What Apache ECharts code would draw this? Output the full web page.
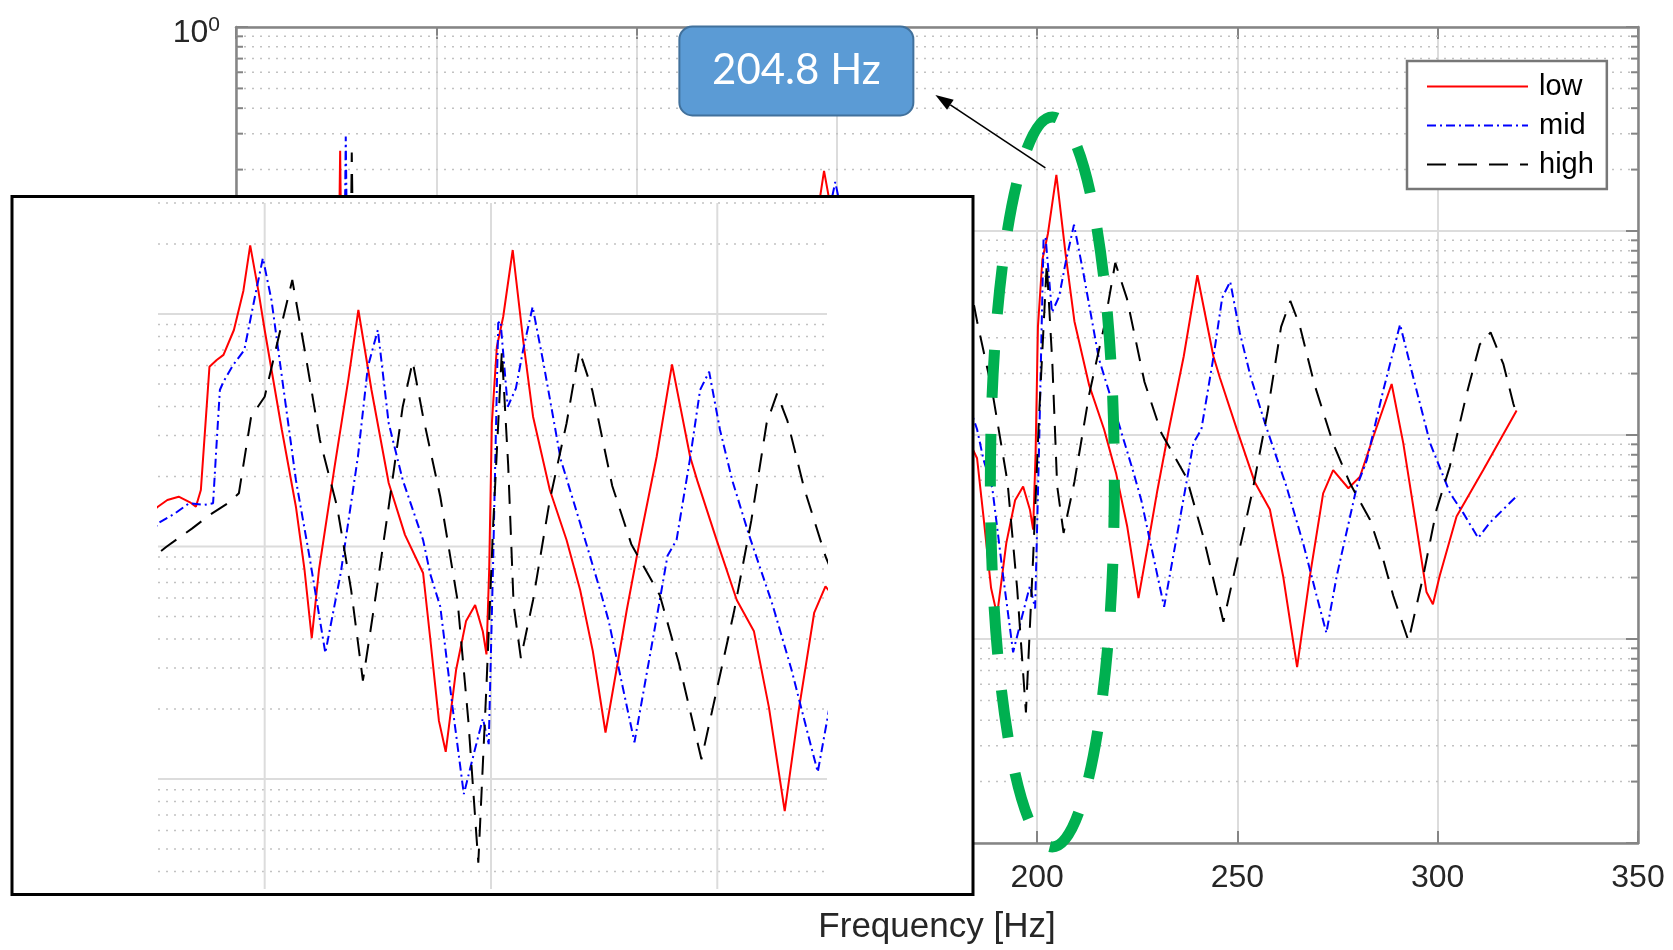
<!DOCTYPE html>
<html>
<head>
<meta charset="utf-8">
<script src="https://cdn.jsdelivr.net/npm/echarts@6/dist/echarts.min.js"></script>
<style>
  html, body { margin: 0; padding: 0; background: #ffffff; }
  #chart { width: 1673px; height: 950px; }
</style>
</head>
<body>
<div id="chart"></div>
<script>
// ---------------------------------------------------------------------------
// Response magnitude of three configurations, stored as [frequency in Hz,
// log10 of the magnitude]. The y axis is logarithmic.
// ---------------------------------------------------------------------------
const low = [
  [0, -2.60], [8, -2.45], [16, -2.20], [22, -1.90], [25.4, -1.55], [26.0, -0.607], [26.4, -1.30],
  [27.5, -2.40], [32, -2.10], [40, -1.70], [48, -1.35], [52, -1.60], [60, -2.30], [66, -2.70],
  [74, -2.10], [82, -1.55], [86, -1.40], [92, -1.90], [100, -2.55], [106, -2.90], [112, -2.40],
  [118, -2.05], [122, -1.90],
  [126.4, -1.829], [128.5, -1.80], [131.0, -1.786], [133.5, -1.81], [134.8, -1.829], [135.9, -1.757],
  [137.0, -1.45], [137.8, -1.227], [139.4, -1.198], [140.9, -1.176], [143.2, -1.069], [145.3, -0.90],
  [146.8, -0.705], [148.6, -0.90], [150.0, -1.069], [153.8, -1.499], [156.9, -1.829], [158.8, -2.10],
  [160.4, -2.394], [162.0, -2.10], [165.5, -1.65], [168.5, -1.28], [170.7, -0.983], [173.6, -1.327],
  [177.4, -1.727], [181.0, -1.95], [185.0, -2.114], [186.6, -2.40], [188.5, -2.75], [190.0, -2.883],
  [192.3, -2.53], [194.5, -2.32], [196.5, -2.252], [198.2, -2.366], [199.0, -2.464], [199.6, -2.10],
  [200.2, -1.469], [201.3, -1.141], [202.7, -1.012], [204.8, -0.725], [207.1, -1.112], [209.3, -1.442],
  [213.0, -1.757], [216.7, -1.972], [219.7, -2.187], [222.5, -2.45], [225.3, -2.80], [228.0, -2.50],
  [230.0, -2.273], [232.9, -1.972], [236.6, -1.614], [240.0, -1.217], [244.0, -1.614], [245.6, -1.718],
  [249.9, -1.975], [254.3, -2.23], [258.1, -2.365], [261.4, -2.691], [264.9, -3.138], [268.1, -2.691],
  [271.4, -2.286], [273.9, -2.172], [277.7, -2.261], [280.6, -2.204], [283.9, -2.01], [288.5, -1.75],
  [291.4, -2.04], [294.7, -2.45], [297.2, -2.77], [298.8, -2.83], [300.5, -2.69], [304.7, -2.40],
  [311.4, -2.17], [319.7, -1.88]
];

const mid = [
  [0, -2.75], [8, -2.55], [16, -2.30], [22, -2.05], [26.8, -1.70], [27.4, -0.537], [27.8, -1.25],
  [28.6, -2.30], [33, -2.20], [42, -1.80], [50, -1.45], [54, -1.70], [62, -2.35], [69, -2.80],
  [77, -2.15], [85, -1.60], [89, -1.45], [95, -1.95], [103, -2.60], [109, -2.95], [115, -2.45],
  [121, -2.10],
  [126.4, -1.900], [130.0, -1.86], [133.3, -1.814], [136.7, -1.821], [138.6, -1.814], [139.4, -1.55],
  [140.1, -1.327], [140.9, -1.291], [143.0, -1.22], [145.5, -1.155], [147.7, -0.940], [149.6, -0.760],
  [151.5, -0.940], [153.8, -1.270], [156.9, -1.714], [159.9, -2.044], [163.4, -2.458], [166.8, -2.115],
  [170.6, -1.614], [172.8, -1.227], [175.0, -1.069], [177.4, -1.470], [180.5, -1.714], [185.0, -1.972],
  [186.6, -2.12], [188.8, -2.259], [191.5, -2.69], [194.0, -3.065], [196.1, -2.90], [198.2, -2.74],
  [199.5, -2.85], [200.5, -2.044], [201.6, -1.039], [202.1, -1.03], [203.7, -1.399], [205.5, -1.32],
  [207.1, -1.155], [209.2, -0.969], [211.6, -1.212], [215.4, -1.625], [219.7, -1.90], [224.1, -2.187],
  [226.0, -2.32], [231.7, -2.842], [237.3, -2.230], [239.0, -2.04], [241.0, -1.972], [244.0, -1.62],
  [246.2, -1.327], [248.2, -1.248], [250.6, -1.499], [253.3, -1.715], [257.0, -1.95], [262.2, -2.25],
  [266.4, -2.53], [269.8, -2.79], [272.2, -2.97], [274.8, -2.69], [279.8, -2.253], [282.3, -2.123],
  [286.4, -1.782], [290.6, -1.458], [293.9, -1.718], [298.1, -2.04], [303.1, -2.286], [306.4, -2.383],
  [310.1, -2.505], [313.0, -2.43], [319.7, -2.30]
];

const high = [
  [0, -2.95], [8, -2.75], [16, -2.50], [22, -2.25], [27, -1.95], [28.4, -1.60], [28.9, -0.615],
  [29.3, -1.20], [30.2, -2.45], [35, -2.35], [45, -1.95], [54, -1.55], [58, -1.80], [66, -2.45],
  [73, -2.90], [81, -2.25], [89, -1.70], [93, -1.55], [99, -2.05], [107, -2.70], [113, -3.00],
  [119, -2.50], [124, -2.15],
  [126.4, -2.03], [128.3, -2.001], [134.0, -1.922], [137.8, -1.865], [142.4, -1.807], [144.3, -1.771],
  [147.0, -1.442], [150.0, -1.356], [153.8, -1.040], [156.1, -0.854], [159.1, -1.184], [162.2, -1.542],
  [166.0, -1.829], [169.1, -2.187], [171.7, -2.577], [174.4, -2.230], [177.4, -1.829], [180.5, -1.399],
  [182.7, -1.205], [185.0, -1.442], [188.8, -1.786], [192.6, -2.230], [195.0, -2.75], [197.2, -3.36],
  [199.0, -2.60], [200.5, -1.90], [202.4, -1.16], [203.8, -1.65], [205.0, -2.25], [206.6, -2.48],
  [209.3, -2.230], [213.0, -1.80], [216.7, -1.47], [219.5, -1.156], [222.4, -1.33], [226.8, -1.74],
  [231.0, -1.99], [237.3, -2.21], [241.5, -2.50], [246.5, -2.915], [253.7, -2.28], [257.5, -1.89],
  [260.9, -1.47], [263.2, -1.343], [265.5, -1.46], [269.2, -1.75], [273.9, -2.042], [278.1, -2.237],
  [283.1, -2.415], [286.4, -2.61], [288.9, -2.788], [292.7, -3.01], [296.4, -2.69], [299.7, -2.366],
  [303.0, -2.156], [307.2, -1.80], [310.5, -1.556], [313.2, -1.497], [316.4, -1.653], [318.9, -1.848],
  [319.7, -1.896]
];

const seriesNames = ['low', 'mid', 'high'];
const seriesColors = ['#ff0000', '#0000ff', '#000000'];
const seriesDash = ['solid', [9, 4, 2, 4], [19, 12]];

// Axis ticks
const freqTicks = [0, 50, 100, 150, 200, 250, 300, 350];
const decadeTicks = [1e-4, 1e-3, 1e-2, 1e-1, 1];
const minorMultipliers = [2, 3, 4, 5, 6, 7, 8, 9];

// Magnified view
const zoomFreqMin = 126.43, zoomFreqMax = 274.24;
const zoomMagMin = 3.365e-4, zoomMagMax = 0.3;
const zoomGridFreqs = [150, 200, 250];
const zoomDecades = [1e-1, 1e-2, 1e-3];

// Highlighted resonance
const peakFreq = 204.8;

// ---------------------------------------------------------------------------
const FONT = '"Liberation Sans", Arial, Helvetica, sans-serif';
const AXIS = '#858585';
const TEXT = '#262626';
const MAJOR_GRID = '#dcdcdc';
const MINOR_GRID = { stroke: '#c2c2c2', lineWidth: 1.5, lineDash: [2, 6] };

const toMag = rows => rows.map(([f, e]) => [f, Math.pow(10, e)]);
const curves = [low, mid, high].map(toMag);

const minorValues = [];
decadeTicks.slice(0, -1).forEach(d => minorMultipliers.forEach(m => minorValues.push(+(d * m).toPrecision(3))));
const zoomMinorValues = minorValues.filter(v => v >= zoomMagMin && v <= zoomMagMax + 1e-9);

// Horizontal lines across a grid, optionally with inward ticks at both ends
function hLines(xIdx, yIdx, values, x0, x1, style, tickLen, z) {
  return {
    type: 'custom', xAxisIndex: xIdx, yAxisIndex: yIdx, z, silent: true,
    data: values.map(v => [x0, v]),
    encode: { x: 0, y: 1 },
    renderItem(params, api) {
      const v = api.value(1);
      const a = api.coord([x0, v]);
      const b = api.coord([x1, v]);
      const children = [{ type: 'line', shape: { x1: a[0], y1: a[1], x2: b[0], y2: b[1] }, style }];
      if (tickLen) {
        children.push({ type: 'line', shape: { x1: a[0], y1: a[1], x2: a[0] + tickLen, y2: a[1] }, style: { stroke: AXIS, lineWidth: 2 } });
        children.push({ type: 'line', shape: { x1: b[0] - tickLen, y1: b[1], x2: b[0], y2: b[1] }, style: { stroke: AXIS, lineWidth: 2 } });
      }
      return { type: 'group', children };
    }
  };
}

// Vertical lines across a grid
function vLines(xIdx, yIdx, values, y0, y1, style, z) {
  return {
    type: 'custom', xAxisIndex: xIdx, yAxisIndex: yIdx, z, silent: true,
    data: values.map(f => [f, y1]),
    encode: { x: 0, y: 1 },
    renderItem(params, api) {
      const f = api.value(0);
      const a = api.coord([f, y0]);
      const b = api.coord([f, y1]);
      return { type: 'line', shape: { x1: a[0], y1: a[1], x2: b[0], y2: b[1] }, style };
    }
  };
}

function curveSeries(i, xIdx, yIdx, z) {
  return {
    name: seriesNames[i], type: 'line', xAxisIndex: xIdx, yAxisIndex: yIdx, z,
    data: curves[i], symbol: 'none', showSymbol: false, smooth: false,
    lineStyle: { color: seriesColors[i], width: 2, type: seriesDash[i] },
    itemStyle: { color: seriesColors[i] },
    emphasis: { disabled: true }
  };
}

const chart = echarts.init(document.getElementById('chart'), null, { renderer: 'canvas' });

const axisLineStyle = { show: true, onZero: false, lineStyle: { color: AXIS, width: 2.5 } };
const innerTick = { show: true, inside: true, length: 12, lineStyle: { color: AXIS, width: 2 } };

chart.setOption({
  animation: false,
  backgroundColor: '#ffffff',
  grid: [
    { left: 236, top: 27, width: 1402, height: 822 },
    { left: 158, top: 203, width: 669, height: 686 }
  ],
  xAxis: [
    {
      gridIndex: 0, type: 'value', position: 'bottom', min: freqTicks[0], max: freqTicks[freqTicks.length - 1], interval: 50,
      axisLine: axisLineStyle, axisTick: innerTick,
      axisLabel: { color: TEXT, fontSize: 32, fontFamily: FONT, margin: 19 },
      splitLine: { show: true, lineStyle: { color: MAJOR_GRID, width: 2 } },
      name: 'Frequency [Hz]', nameLocation: 'middle', nameGap: 67,
      nameTextStyle: { color: TEXT, fontSize: 35, fontFamily: FONT }
    },
    {
      gridIndex: 0, type: 'value', position: 'top', min: freqTicks[0], max: freqTicks[freqTicks.length - 1], interval: 50,
      axisLine: axisLineStyle, axisTick: innerTick, axisLabel: { show: false }, splitLine: { show: false }
    },
    { gridIndex: 1, type: 'value', min: zoomFreqMin, max: zoomFreqMax, show: false }
  ],
  yAxis: [
    {
      gridIndex: 0, type: 'log', logBase: 10, position: 'left', min: decadeTicks[0], max: decadeTicks[decadeTicks.length - 1],
      axisLine: axisLineStyle, axisTick: innerTick,
      axisLabel: {
        margin: 16,
        formatter: v => '{b|10}{s|' + Math.round(Math.log10(v)) + '}',
        rich: {
          b: { fontSize: 32, fontFamily: FONT, color: TEXT, lineHeight: 34, padding: [12, 0, 0, 0] },
          s: { fontSize: 21, fontFamily: FONT, color: TEXT, lineHeight: 21, verticalAlign: 'top', padding: [5, 0, 0, 0] }
        }
      },
      splitLine: { show: true, lineStyle: { color: MAJOR_GRID, width: 2 } }
    },
    {
      gridIndex: 0, type: 'log', logBase: 10, position: 'right', min: decadeTicks[0], max: decadeTicks[decadeTicks.length - 1],
      axisLine: axisLineStyle, axisTick: innerTick, axisLabel: { show: false }, splitLine: { show: false }
    },
    { gridIndex: 1, type: 'log', logBase: 10, min: zoomMagMin, max: zoomMagMax, show: false }
  ],
  legend: {
    data: seriesNames, orient: 'vertical', left: 1407, top: 61,
    itemWidth: 101, itemHeight: 30, itemGap: 10, padding: [11, 13, 10, 19],
    backgroundColor: '#ffffff', borderColor: '#777777', borderWidth: 2.5, borderRadius: 0,
    selectedMode: false,
    itemStyle: { opacity: 0 },
    textStyle: { color: '#000000', fontSize: 29, fontFamily: FONT, padding: [4, 0, 0, 6] }
  },
  series: [
    // main axes: minor grid and minor ticks, then curves
    hLines(0, 0, minorValues, freqTicks[0], freqTicks[freqTicks.length - 1], MINOR_GRID, 7, 1),
    curveSeries(0, 0, 0, 2), curveSeries(1, 0, 0, 2), curveSeries(2, 0, 0, 2),
    // magnified view
    hLines(2, 2, zoomMinorValues, zoomFreqMin, zoomFreqMax, MINOR_GRID, 0, 11),
    hLines(2, 2, zoomDecades, zoomFreqMin, zoomFreqMax, { stroke: MAJOR_GRID, lineWidth: 2 }, 0, 11),
    vLines(2, 2, zoomGridFreqs, zoomMagMin, zoomMagMax, { stroke: MAJOR_GRID, lineWidth: 2 }, 11),
    curveSeries(0, 2, 2, 12), curveSeries(1, 2, 2, 12), curveSeries(2, 2, 2, 12)
  ]
});

// Annotations placed relative to the highlighted peak of the "low" curve
const peak = low.find(p => p[0] === peakFreq);
const P = chart.convertToPixel({ xAxisIndex: 0, yAxisIndex: 0 }, [peakFreq, Math.pow(10, peak[1])]);

const tail = [P[0] - 11, P[1] - 7];
const tip = [P[0] - 121, P[1] - 80];
const dx = tip[0] - tail[0], dy = tip[1] - tail[1];
const len = Math.hypot(dx, dy), ux = dx / len, uy = dy / len;
const headLen = 18, headHalf = 6;
const base = [tip[0] - ux * headLen, tip[1] - uy * headLen];

const boxW = 234, boxH = 89;
const boxCx = P[0] - 260, boxCy = P[1] - 104;

chart.setOption({
  graphic: {
    elements: [
      {
        id: 'insetFrame', type: 'rect', z: 10, silent: true,
        shape: { x: 12, y: 196.5, width: 961, height: 698 },
        style: { fill: '#ffffff', stroke: '#000000', lineWidth: 3 }
      },
      {
        id: 'ring', type: 'ellipse', z: 50, silent: true,
        shape: { cx: P[0] - 4, cy: P[1] + 307, rx: 62, ry: 365 },
        style: { fill: 'none', stroke: '#00b050', lineWidth: 11, lineDash: [48, 36] }
      },
      {
        id: 'arrowLine', type: 'line', z: 50, silent: true,
        shape: { x1: tail[0], y1: tail[1], x2: base[0], y2: base[1] },
        style: { stroke: '#000000', lineWidth: 1.6 }
      },
      {
        id: 'arrowHead', type: 'polygon', z: 50, silent: true,
        shape: { points: [tip, [base[0] - uy * headHalf, base[1] + ux * headHalf], [base[0] + uy * headHalf, base[1] - ux * headHalf]] },
        style: { fill: '#000000' }
      },
      {
        id: 'calloutBox', type: 'rect', z: 50, silent: true,
        shape: { x: boxCx - boxW / 2, y: boxCy - boxH / 2, width: boxW, height: boxH, r: 13 },
        style: { fill: '#5b9bd5', stroke: '#41719c', lineWidth: 2 }
      },
      {
        id: 'calloutText', type: 'text', z: 51, silent: true,
        x: boxCx, y: boxCy,
        style: {
          text: peakFreq.toFixed(1) + ' Hz', fill: '#ffffff', fontSize: 42, fontFamily: 'Lato, "Open Sans", sans-serif',
          align: 'center', verticalAlign: 'middle'
        }
      }
    ]
  }
});
</script>
</body>
</html>
